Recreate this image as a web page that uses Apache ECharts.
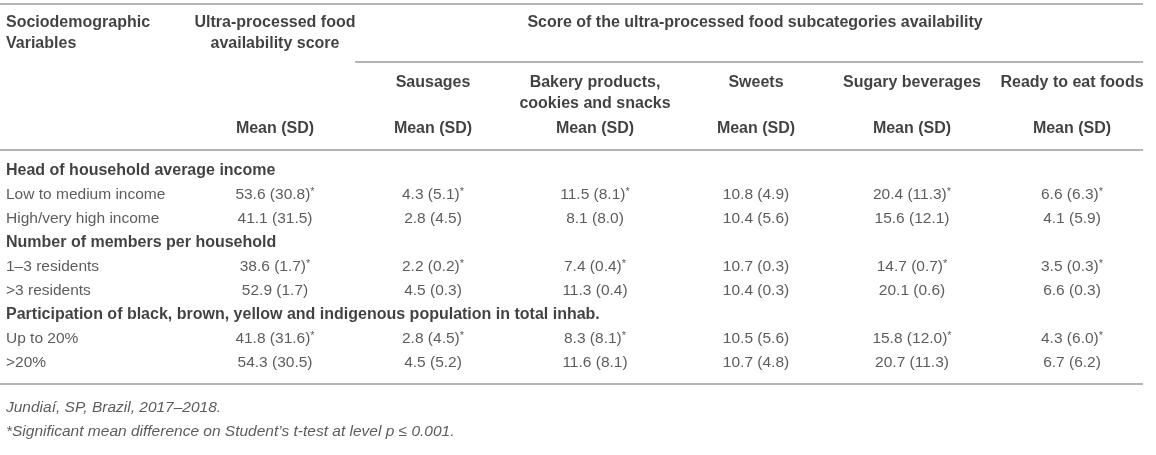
<!DOCTYPE html>
<html>
<head>
<meta charset="utf-8">
<script src="https://cdn.jsdelivr.net/npm/echarts@6/dist/echarts.min.js"></script>
<style>
  html, body { margin: 0; padding: 0; background: #fff; }
  #table { width: 1156px; height: 455px; }
</style>
</head>
<body>
<div id="table"></div>
<script>
// table contents
const groupTitles = [
    'Head of household average income',
    'Number of members per household',
    'Participation of black, brown, yellow and indigenous population in total inhab.'
];
const rowLabels = ['Low to medium income', 'High/very high income', '1\u20133 residents', '>3 residents', 'Up to 20%', '>20%'];
const columnTitles = [
    ['Ultra-processed food', 'availability score'],
    ['Sausages'],
    ['Bakery products,', 'cookies and snacks'],
    ['Sweets'],
    ['Sugary beverages'],
    ['Ready to eat foods']
];
const upfMean = [53.6, 41.1, 38.6, 52.9, 41.8, 54.3];
const upfSD = [30.8, 31.5, 1.7, 1.7, 31.6, 30.5];
const upfSig = [1, 0, 1, 0, 1, 0];
const sausMean = [4.3, 2.8, 2.2, 4.5, 2.8, 4.5];
const sausSD = [5.1, 4.5, 0.2, 0.3, 4.5, 5.2];
const sausSig = [1, 0, 1, 0, 1, 0];
const bakeryMean = [11.5, 8.1, 7.4, 11.3, 8.3, 11.6];
const bakerySD = [8.1, 8.0, 0.4, 0.4, 8.1, 8.1];
const bakerySig = [1, 0, 1, 0, 1, 0];
const sweetsMean = [10.8, 10.4, 10.7, 10.4, 10.5, 10.7];
const sweetsSD = [4.9, 5.6, 0.3, 0.3, 5.6, 4.8];
const sweetsSig = [0, 0, 0, 0, 0, 0];
const sugaryMean = [20.4, 15.6, 14.7, 20.1, 15.8, 20.7];
const sugarySD = [11.3, 12.1, 0.7, 0.6, 12.0, 11.3];
const sugarySig = [1, 0, 1, 0, 1, 0];
const readyMean = [6.6, 4.1, 3.5, 6.6, 4.3, 6.7];
const readySD = [6.3, 5.9, 0.3, 0.3, 6.0, 6.2];
const readySig = [1, 0, 1, 0, 1, 0];
const notes = [
    'Jundia\u00ed, SP, Brazil, 2017\u20132018.',
    '*Significant mean difference on Student\u2019s t-test at level p \u2264 0.001.'
];

// layout (pixels, y downwards)
const colX = [275, 433, 595, 756, 912, 1072];
const labelX = 6;
const groupY = [171, 243, 315];
const rowY = [195, 219, 267, 291, 339, 363];
const noteY = [408, 432];
const font = 'Liberation Sans, Arial, Helvetica, sans-serif';
const lineColor = '#b4b4b4';

const columns = [
    [upfMean, upfSD, upfSig], [sausMean, sausSD, sausSig], [bakeryMean, bakerySD, bakerySig],
    [sweetsMean, sweetsSD, sweetsSig], [sugaryMean, sugarySD, sugarySig], [readyMean, readySD, readySig]
];

const chart = echarts.init(document.getElementById('table'), null, { renderer: 'canvas' });

function textSeries(name, data, label) {
    return {
        name: name, type: 'scatter', symbolSize: 0, silent: true, data: data,
        label: Object.assign({
            show: true, position: 'inside', verticalAlign: 'middle',
            fontFamily: font, fontSize: 15.5, color: '#222',
            formatter: p => p.data[2]
        }, label)
    };
}

// header texts
const headerLeft = [[labelX, 23, 'Sociodemographic'], [labelX, 44, 'Variables']];
const headerCenter = [[755, 23, 'Score of the ultra-processed food subcategories availability']];
columnTitles.forEach((lines, i) => {
    const y0 = i === 0 ? 23 : 83;
    lines.forEach((t, k) => headerCenter.push([colX[i], y0 + k * 21, t]));
    headerCenter.push([colX[i], 129, 'Mean (SD)']);
});
const groupData = groupTitles.map((t, i) => [labelX, groupY[i], t]);
const rowData = rowLabels.map((t, i) => [labelX, rowY[i], t]);
const cellData = [];
columns.forEach((c, ci) => {
    c[0].forEach((m, ri) => {
        const txt = m.toFixed(1) + ' (' + c[1][ri].toFixed(1) + ')' + (c[2][ri] ? '{s|*}' : '');
        cellData.push([colX[ci], rowY[ri], txt]);
    });
});
const noteData = notes.map((t, i) => [labelX, noteY[i], t]);

const ruleLines = [
    { coords: [[0, 4], [1143, 4]] },
    { coords: [[355, 62], [1143, 62]] },
    { coords: [[0, 150], [1143, 150]] },
    { coords: [[0, 384], [1143, 384]] }
];

const bold = { fontWeight: 'bold', fontSize: 16, color: '#111' };

chart.setOption({
    animation: false,
    grid: { left: 0, right: 0, top: 0, bottom: 0 },
    xAxis: { type: 'value', min: 0, max: 1156, show: false },
    yAxis: { type: 'value', min: 0, max: 455, inverse: true, show: false },
    series: [
        {
            name: 'rules', type: 'lines', coordinateSystem: 'cartesian2d', silent: true,
            lineStyle: { color: lineColor, width: 2, opacity: 1 },
            data: ruleLines
        },
        textSeries('headerLeft', headerLeft, Object.assign({ align: 'left' }, bold)),
        textSeries('headerCenter', headerCenter, Object.assign({ align: 'center' }, bold)),
        textSeries('groups', groupData, Object.assign({ align: 'left' }, bold)),
        textSeries('rows', rowData, { align: 'left', color: '#333' }),
        textSeries('cells', cellData, {
            align: 'center', color: '#333',
            rich: { s: { fontSize: 11, color: '#333', fontFamily: font, padding: [0, 0, 6, 0] } }
        }),
        textSeries('notes', noteData, { align: 'left', fontStyle: 'italic', color: '#333' })
    ]
});

window.addEventListener('resize', () => chart.resize());
</script>
</body>
</html>
